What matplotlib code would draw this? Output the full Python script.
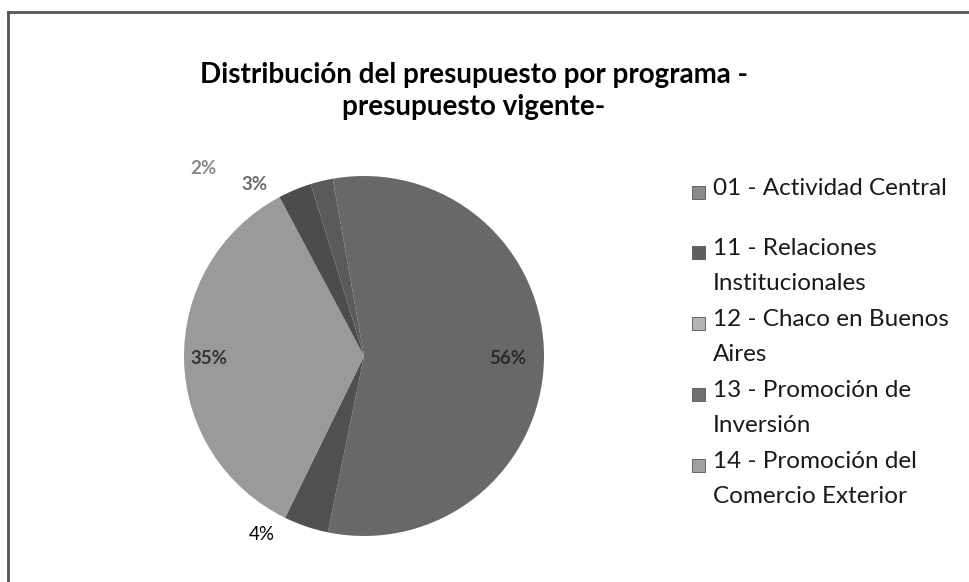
import matplotlib.pyplot as plt
from matplotlib.lines import Line2D
from matplotlib.patches import Rectangle
import numpy as np

# data
programs = [
    "01 - Actividad Central",
    "11 - Relaciones\nInstitucionales",
    "12 - Chaco en Buenos\nAires",
    "13 - Promoción de\nInversión",
    "14 - Promoción del\nComercio Exterior",
]
shares = [56, 4, 35, 3, 2]
pct_labels = [f"{v}%" for v in shares]

colors = ["#686868", "#505050", "#9a9a9a", "#4c4c4c", "#5a5a5a"]
legend_colors = ["#8a8a8a", "#5e5e5e", "#b4b4b4", "#707070", "#a0a0a0"]


def main():
    W, H = 969, 582
    fig = plt.figure(figsize=(W / 100, H / 100), dpi=100)
    fig.patch.set_facecolor("white")

    # scanned frame: top and left edge only
    fig.add_artist(Line2D([8 / W, 1.0], [1 - 12 / H, 1 - 12 / H], color="#555555", lw=2))
    fig.add_artist(Line2D([8 / W, 8 / W], [0, 1 - 12 / H], color="#555555", lw=2))

    fig.text(474 / W, 1 - 75 / H, "Distribución del presupuesto por programa -",
             ha="center", va="center", fontsize=20, fontweight="bold", family="Lato")
    fig.text(474 / W, 1 - 107 / H, "presupuesto vigente-",
             ha="center", va="center", fontsize=20, fontweight="bold", family="Lato")

    # pie
    cx, cy, r = 364, 356, 180
    ax = fig.add_axes([(cx - r) / W, (H - cy - r) / H, 2 * r / W, 2 * r / H])
    wedges, _ = ax.pie(shares, colors=colors, startangle=100, counterclock=False,
                       radius=1.0, wedgeprops=dict(linewidth=0))
    ax.set_xlim(-1, 1)
    ax.set_ylim(-1, 1)
    ax.set_aspect("equal")
    ax.axis("off")

    # percentage labels: inside for big slices, outside for small ones
    dists = [0.8, 1.14, 0.86, 1.13, 1.37]
    shifts = [0, -11, 0, 10, 27]
    label_colors = ["#2a2a2a", "black", "#333333", "#6a6a6a", "#888888"]
    weights = ["bold", "normal", "bold", "bold", "bold"]
    for w, txt, d, s, c, fw in zip(wedges, pct_labels, dists, shifts, label_colors, weights):
        ang = np.deg2rad((w.theta1 + w.theta2) / 2 + s)
        ax.text(d * np.cos(ang), d * np.sin(ang), txt, ha="center", va="center",
                fontsize=13.5, family="Lato", color=c, fontweight=fw, clip_on=False)

    # legend, drawn as squares and text
    y = 192
    for i, (name, lc) in enumerate(zip(programs, legend_colors)):
        fig.add_artist(Rectangle((692 / W, 1 - (y + 7) / H), 13 / W, 13 / H,
                                 facecolor=lc, edgecolor="#555555", lw=0.6))
        fig.text(713 / W, 1 - (y - 14) / H, name, ha="left", va="top",
                 fontsize=17.5, family="Lato", linespacing=1.8, color="#1a1a1a")
        y += 60 if i == 0 else 71

    plt.savefig("out.png", dpi=100)


if __name__ == "__main__":
    main()
